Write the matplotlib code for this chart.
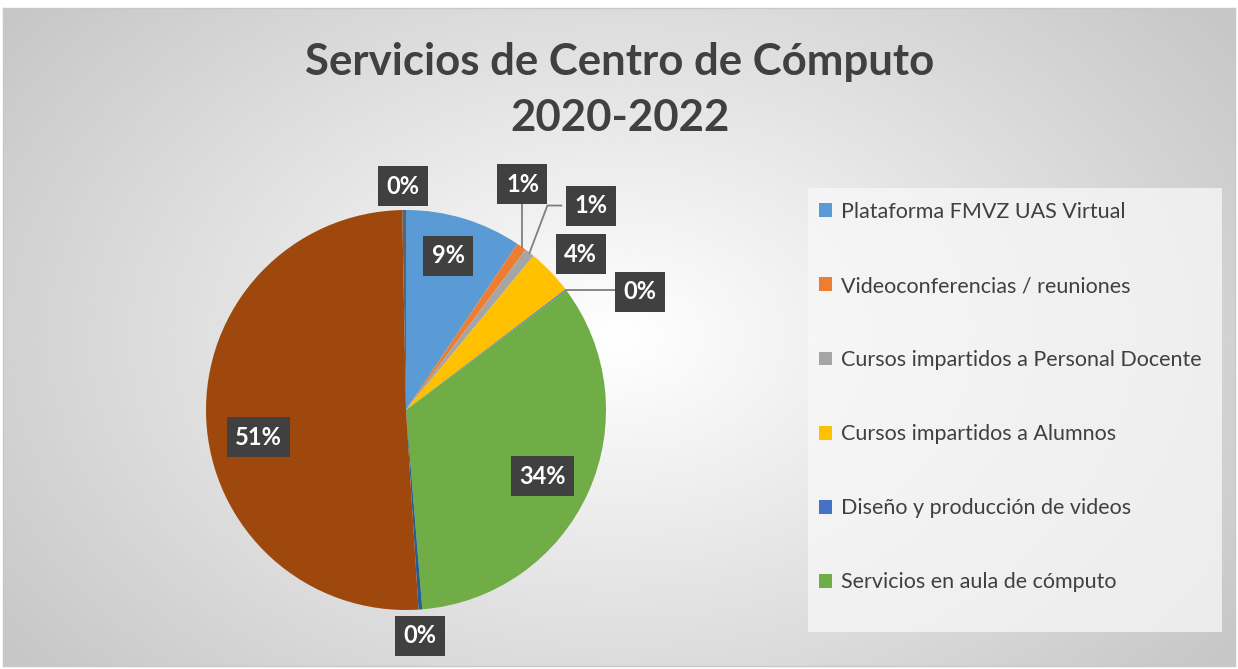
import numpy as np
import matplotlib
matplotlib.use("Agg")
import matplotlib.pyplot as plt
from matplotlib.patches import Patch, Rectangle

# ================= DATA =================
TITLE = "Servicios de Centro de Cómputo\n2020-2022"

categories = [
    "Plataforma FMVZ UAS Virtual",
    "Videoconferencias / reuniones",
    "Cursos impartidos a Personal Docente",
    "Cursos impartidos a Alumnos",
    "Diseño y producción de videos",
    "Servicios en aula de cómputo",
    "Otros servicios 1",
    "Otros servicios 2",
    "Otros servicios 3",
]
shares = [9.4, 0.8, 0.8, 3.7, 0.1, 33.9, 0.3, 50.7, 0.3]
pct_labels = ["9%", "1%", "1%", "4%", "0%", "34%", "0%", "51%", "0%"]
LEGEND_COUNT = 6  # only first six shown in the legend box

# ================= STYLE =================
COLOURS = ["#5B9BD5", "#ED7D31", "#A5A5A5", "#FFC000", "#4472C4",
           "#70AD47", "#255E91", "#9E480E", "#636363"]
# label placement (radius factor, angle from 12 o'clock in degrees, clockwise)
LABEL_POS = [(0.80, 15.3), (1.27, 27.3), (1.38, 42.2), (1.17, 48.3),
             (1.31, 63.2), (0.76, 115.9), (1.13, 176.5), (0.75, 259.6),
             (1.12, -0.8)]
FONT = "Lato"
W, H = 1238, 669

fig = plt.figure(figsize=(W / 100, H / 100), dpi=100)
fig.patch.set_facecolor("white")

# background with radial gradient
bg = fig.add_axes([3 / W, 3 / H, (W - 6) / W, (H - 11) / H])
yy, xx = np.mgrid[0:1:300j, 0:1:500j]
dist = np.sqrt(((xx - 0.5) * 1.3) ** 2 + (yy - 0.5) ** 2)
shade = 1.0 - 0.22 * np.clip(dist / 0.8, 0, 1)
bg.imshow(shade, cmap="gray", vmin=0, vmax=1, aspect="auto",
          extent=[0, 1, 0, 1], interpolation="bicubic")
bg.set_xticks([])
bg.set_yticks([])
for s in bg.spines.values():
    s.set_color("#c8c8c8")
    s.set_linewidth(1.0)

# pie axes: centre at (406, 410) px, radius 200 px
R_PX = 200
cx, cy = 406, 410
half = 1.5 * R_PX
ax = fig.add_axes([(cx - half) / W, (H - cy - half) / H, 2 * half / W, 2 * half / H])
ax.axis("off")

wedges, _ = ax.pie(shares, colors=COLOURS, startangle=90, counterclock=False,
                   radius=1.0, wedgeprops=dict(linewidth=0))
ax.set_xlim(-1.5, 1.5)
ax.set_ylim(-1.5, 1.5)


def polar(r, a):
    t = np.deg2rad(a)
    return r * np.sin(t), r * np.cos(t)


cum = np.cumsum([0] + shares)


def edge_point(i, r=1.0):
    mid = (cum[i] + cum[i + 1]) / 2 * 3.6
    return polar(r, mid)


# leader lines for small outside labels
lx, ly = polar(*LABEL_POS[1])
ex, ey = edge_point(1)
ax.plot([ex, ex], [ey, ly - 0.08], color="#7f7f7f", lw=1.3, zorder=2)
lx, ly = polar(*LABEL_POS[2])
ex, ey = edge_point(2)
ax.plot([ex, lx - 0.22, lx - 0.15], [ey, ly, ly], color="#7f7f7f", lw=1.3, zorder=2)
lx, ly = polar(*LABEL_POS[4])
ex, ey = edge_point(4)
ax.plot([ex, lx - 0.12], [ey, ey], color="#7f7f7f", lw=1.3, zorder=2)

for txt, (r, a) in zip(pct_labels, LABEL_POS):
    x, y = polar(r, a)
    ax.text(x, y, txt, ha="center", va="center", fontsize=17,
            fontweight="bold", family=FONT, color="white", zorder=5,
            bbox=dict(boxstyle="square,pad=0.36", fc="#404040", ec="none"))

# title
fig.text(620 / W, 1 - 90 / H, TITLE, ha="center", va="center",
         fontsize=31.5, fontweight="bold", family=FONT, color="#404040",
         linespacing=1.5)

# legend box drawn as a panel, entries without frame
fig.patches.append(Rectangle((808 / W, 1 - 632 / H), (1222 - 808) / W, (632 - 188) / H,
                             transform=fig.transFigure, facecolor="#f8f8f8",
                             alpha=0.75, edgecolor="none", zorder=1))
handles = [Patch(facecolor=COLOURS[i], edgecolor="none", label=categories[i])
           for i in range(LEGEND_COUNT)]
leg = fig.legend(handles=handles, loc="upper left",
                 bbox_to_anchor=(819 / W, 1 - 202 / H), borderaxespad=0,
                 frameon=False, prop=dict(family=FONT, size=15.5),
                 handlelength=0.62, handleheight=0.62, handletextpad=0.4,
                 labelspacing=2.51, borderpad=0)
for t in leg.get_texts():
    t.set_color("#404040")

fig.savefig("out.png", dpi=100)
